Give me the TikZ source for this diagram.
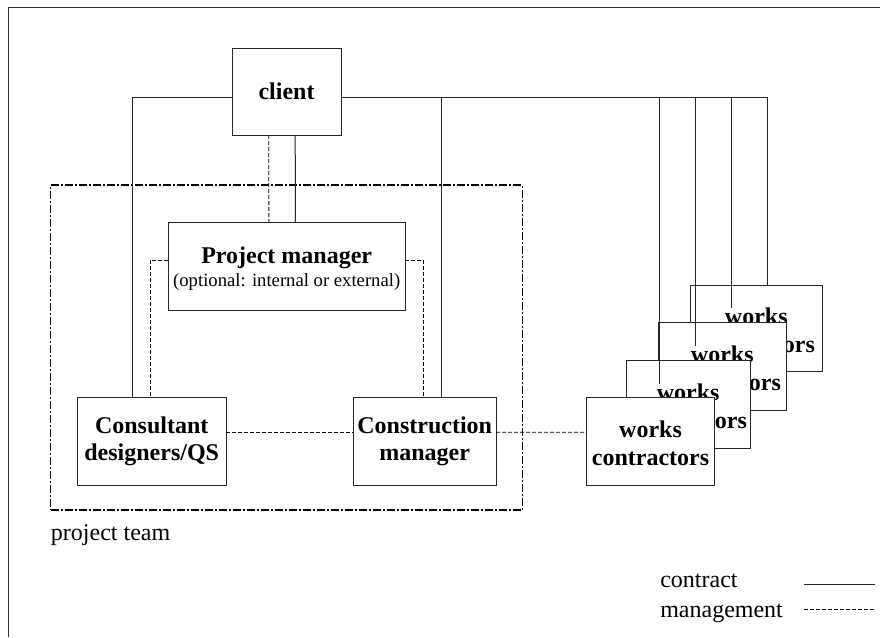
\documentclass[tikz,border=0pt]{standalone}
\usepackage{fontspec}
\setmainfont{Liberation Serif}
\usetikzlibrary{calc}
\begin{document}
\begin{tikzpicture}[x=0.75pt,y=-0.75pt,
  box/.style={draw=black!85,line width=0.75pt,fill=white,inner sep=0pt,outer sep=0pt,align=center,
    font=\bfseries\fontsize{18}{20.6}\selectfont},
  wbox/.style={draw=black!85,line width=0.75pt,fill=white,inner sep=0pt,outer sep=0pt},
  wtext/.style={fill=white,inner sep=0pt,align=center,font=\bfseries\fontsize{18}{20.6}\selectfont},
  con/.style={draw=black!85,line width=0.75pt},
  mgmt/.style={draw=black,line width=0.6pt,dash pattern=on 3pt off 1.5pt},
  team/.style={draw=black,line width=1pt,dash pattern=on 6pt off 1.5pt on 1.5pt off 1.5pt,inner sep=0pt,outer sep=0pt},
  plain/.style={inner sep=0pt,font=\fontsize{18}{20}\selectfont},
  frame/.style={draw=black!80,line width=1.2pt}]
\useasboundingbox (0,0) rectangle (880,637);
% outer frame (right and bottom edges lie outside the picture)
\coordinate (fTR) at (880,7.5);
\coordinate (fTL) at (8.5,7.5);
\coordinate (fBL) at (8.5,637);
\draw[frame] (fTR) -- (fTL) -- (fBL);

% project team boundary
\node[team,minimum width=353.7pt,minimum height=243.75pt] (team) at (286.5,347.5) {};
\node[plain,anchor=base west] (teamlbl) at (50.7,540.7) {project team};

% main boxes
\node[box,minimum width=81.75pt,minimum height=65.25pt] (client) at (286.5,91.5) {client};
\node[box,minimum width=177.5pt,minimum height=65.7pt] (pm) at (286.7,266.5) {};
\node[inner sep=0pt,anchor=base,font=\bfseries\fontsize{18}{20}\selectfont] (pmt1) at (286.7,263.3) {Project manager};
\node[inner sep=0pt,anchor=base,font=\fontsize{14}{16}\selectfont] (pmt2) at (286.7,286) {(optional: internal or external)};
\node[box,minimum width=111.5pt,minimum height=66pt] (cons) at (151.7,441.3) {Consultant\\designers/QS};
\node[box,minimum width=107pt,minimum height=66pt] (cm) at (424.7,441.3) {Construction\\manager};

% contract lines from client
\coordinate (cL) at ($(client.west)+(0,6.2)$);
\coordinate (cR) at ($(client.east)+(0,6.2)$);
\coordinate (consTop) at ($(cons.north west)+(55,0)$);
\coordinate (cmTop) at ($(cm.north east)+(-55,0)$);
\draw[con] (cL) -| (consTop);
\draw[con] (cR) -| (cmTop);
\draw[con] ($(client.south)+(8.7,0)$) -- ($(pm.north)+(8.7,0)$);

% management lines
\draw[mgmt] ($(client.south)+(-17.8,0)$) -- ($(pm.north)+(-17.8,0)$);
\draw[mgmt] ($(pm.west)+(0,-6.5)$) -| ($(cons.north)+(-1.5,0)$);
\draw[mgmt] ($(pm.east)+(0,-6.5)$) -| ($(cm.north)+(-1.5,0)$);
\draw[mgmt] ($(cons.east)+(0,-9)$) -- ($(cm.west)+(0,-9)$);

% works contractors, back to front
\node[wbox,minimum width=99pt,minimum height=65pt] (w4) at (756.3,328.4) {};
\coordinate (w4top) at ($(w4.north east)+(-54.6,0)$);
\draw[con] (cR) -| (w4top);
\coordinate (w3top) at (731,322.7);
\coordinate (w3branch) at (w3top |- cR);
\draw[con] (w3branch) -- (w3top);
\node[wtext] (w4t) at (756.3,330.5) {works\\contractors};

\node[wbox,minimum width=96pt,minimum height=65.5pt] (w3) at (722.3,366.4) {};
\coordinate (w2top) at ($(w3.north east)+(-91.3,37.3)$);
\coordinate (w2branch) at (w2top |- cR);
\draw[con] (w2branch) -- (w2top);
\node[wtext] (w3t) at (722.3,368.5) {works\\contractors};

\node[wbox,minimum width=93.2pt,minimum height=66.2pt] (w2) at (688.2,404.2) {};
\coordinate (w1top) at (659,397.3);
\coordinate (w1branch) at (w1top |- cR);
\draw[con] (w1branch) -- (w1top);
\node[wtext] (w2t) at (688.2,406.3) {works\\contractors};

\node[wbox,minimum width=95.7pt,minimum height=66pt] (w1) at (650.5,441.2) {};
\node[wtext] (w1t) at (650.5,443.3) {works\\contractors};

\draw[mgmt] ($(cm.east)+(0,-9)$) -- ($(w1.west)+(0,-9)$);

% legend
\node[plain,anchor=base west] (lgc) at (660,587.7) {contract};
\node[plain,anchor=base west] (lgm) at (660,617.3) {management};
\coordinate (lc1) at (804,584.3);
\coordinate (lc2) at (875.3,584.3);
\coordinate (lm1) at (804,609.3);
\coordinate (lm2) at (875.3,609.3);
\draw[con] (lc1) -- (lc2);
\draw[mgmt] (lm1) -- (lm2);
\end{tikzpicture}
\end{document}
